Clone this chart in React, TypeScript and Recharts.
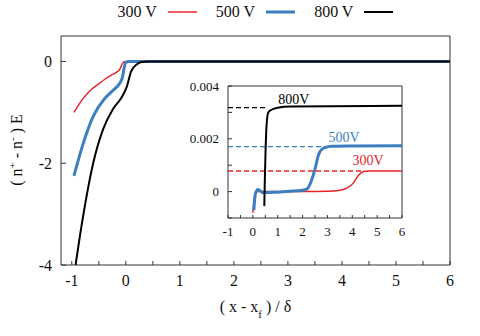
import React from 'react';
import {
  LineChart,
  Line,
  XAxis,
  YAxis,
  ReferenceArea,
  ReferenceDot,
} from 'recharts';

// main panel: (n+ - n-) E against (x - xf)/delta
const red300X = [-0.96, -0.8, -0.64, -0.5, -0.39, -0.27, -0.17, -0.11, -0.07, -0.04, 0, 6];
const red300Y = [-1.0, -0.74, -0.55, -0.44, -0.35, -0.27, -0.21, -0.15, -0.06, -0.01, 0, 0];

const blue500X = [-0.96, -0.8, -0.6, -0.4, -0.25, -0.12, -0.06, -0.03, 0.0, 0.06, 6];
const blue500Y = [-2.25, -1.65, -1.07, -0.74, -0.58, -0.44, -0.3, -0.12, -0.02, 0, 0];

const black800X = [-0.93, -0.8, -0.6, -0.42, -0.24, -0.08, 0.01, 0.1, 0.2, 0.29, 0.4, 6];
const black800Y = [-4.0, -3.1, -1.98, -1.33, -0.94, -0.71, -0.52, -0.19, -0.06, -0.01, 0, 0];

// inset: zoom around zero
const insetRedX = [0.0, 0.05, 0.1, 0.2, 0.5, 1, 2, 3, 3.5, 3.8, 4.05, 4.25, 4.45, 4.7, 5, 6];
const insetRedY = [-0.0008, -0.0003, -0.0001, 0, 0, 0, 0, 0.00001, 0.00005, 0.00014, 0.00033, 0.00062, 0.00076, 0.00078, 0.00078, 0.00078];

const insetBlueX = [0.04, 0.1, 0.2, 0.3, 0.4, 0.7, 1.0, 1.5, 2.0, 2.2, 2.35, 2.5, 2.63, 2.75, 2.9, 3.2, 4, 6];
const insetBlueY = [-0.0007, -0.0001, 0.00008, 0.00002, -0.00004, -0.00003, -0.00002, 0.00001, 0.00005, 0.00012, 0.0004, 0.00085, 0.00136, 0.00158, 0.00167, 0.00172, 0.00173, 0.00174];

const insetBlackX = [0.46, 0.48, 0.51, 0.55, 0.62, 0.75, 1.0, 1.5, 6];
const insetBlackY = [-0.00055, 0.0004, 0.0015, 0.0025, 0.003, 0.0031, 0.00318, 0.00322, 0.00325];

// dashed reference levels in the inset
const levelRed = 0.00078;
const levelBlue = 0.0017;
const levelBlack = 0.00318;
const levelEndX = [4.43, 2.83, 0.55];

const seriesNames = ['300 V', '500 V', '800 V'];
const insetNames = ['300V', '500V', '800V'];
const colors = ['#e8232b', '#3b7fc0', '#000000'];

const mainXTicks = [-1, -0.5, 0, 0.5, 1, 1.5, 2, 2.5, 3, 3.5, 4, 4.5, 5, 5.5, 6];
const mainYTicks = [-4, -2, 0];
const insetXTicks = [-1, -0.5, 0, 0.5, 1, 1.5, 2, 2.5, 3, 3.5, 4, 4.5, 5, 5.5, 6];
const insetYTicks = [-0.001, 0, 0.001, 0.002, 0.003, 0.004];
const insetYLabels = [0, 0.002, 0.004];

const FONT = "'Liberation Serif', 'Times New Roman', serif";

const zip = (xs: number[], ys: number[]) => xs.map((x, i) => ({ x, y: ys[i] }));

function bottomTick(len: number, fontSize: number, dy: number) {
  return (props: any) => {
    const { x, y, payload } = props;
    const v = payload.value;
    const major = Number.isInteger(v);
    return (
      <g>
        <line x1={x} x2={x} y1={y} y2={y - len} stroke="#333" />
        {major && (
          <text x={x} y={y + dy} textAnchor="middle" fontFamily={FONT} fontSize={fontSize} fill="#111">
            {String(v)}
          </text>
        )}
      </g>
    );
  };
}

function topTick(len: number) {
  return (props: any) => {
    const { x, y } = props;
    return <line x1={x} x2={x} y1={y} y2={y + len} stroke="#333" />;
  };
}

function leftTick(len: number, fontSize: number, gap: number, labels: number[] | null) {
  return (props: any) => {
    const { x, y, payload } = props;
    const v = payload.value;
    const show = labels == null || labels.includes(v);
    return (
      <g>
        <line x1={x} x2={x + len} y1={y} y2={y} stroke="#333" />
        {show && (
          <text x={x - gap} y={y} dy="0.35em" textAnchor="end" fontFamily={FONT} fontSize={fontSize} fill="#111">
            {String(v)}
          </text>
        )}
      </g>
    );
  };
}

function Legend() {
  return (
    <div
      style={{
        position: 'absolute',
        top: 3,
        left: 61,
        width: 389,
        display: 'flex',
        justifyContent: 'center',
        alignItems: 'center',
        fontFamily: FONT,
        fontSize: 16,
        color: '#111',
      }}
    >
      {seriesNames.map((name, i) => (
        <div key={name} style={{ display: 'flex', alignItems: 'center', marginLeft: i === 0 ? 0 : 19 }}>
          <span>{name}</span>
          <svg width={29} height={6} style={{ marginLeft: 11 }}>
            <line x1={0} x2={29} y1={3} y2={3} stroke={colors[i]} strokeWidth={i === 0 ? 1.5 : i === 1 ? 3 : 2} />
          </svg>
        </div>
      ))}
    </div>
  );
}

function Inset() {
  return (
    <div style={{ position: 'absolute', left: 168, top: 76, width: 240, height: 170, background: '#fff' }}>
      <LineChart width={240} height={170} margin={{ top: 10, right: 6, bottom: 8, left: 0 }}>
        <ReferenceArea x1={-1} x2={6} y1={-0.001} y2={0.004} fill="none" stroke="#333" strokeWidth={1} />
        <XAxis
          type="number"
          dataKey="x"
          domain={[-1, 6]}
          ticks={insetXTicks}
          interval={0}
          height={20}
          axisLine={false}
          tickLine={false}
          tickSize={0}
          tickMargin={0}
          tick={bottomTick(3, 13, 18)}
        />
        <XAxis
          xAxisId="top"
          orientation="top"
          type="number"
          domain={[-1, 6]}
          ticks={insetXTicks}
          interval={0}
          height={0}
          axisLine={false}
          tickLine={false}
          tickSize={0}
          tickMargin={0}
          tick={topTick(3)}
        />
        <YAxis
          type="number"
          domain={[-0.001, 0.004]}
          ticks={insetYTicks}
          interval={0}
          width={60}
          axisLine={false}
          tickLine={false}
          tickSize={0}
          tickMargin={0}
          tick={leftTick(4, 13, 9, insetYLabels)}
        />
        <Line data={zip([-1, levelEndX[0]], [levelRed, levelRed])} dataKey="y" type="linear" stroke={colors[0]} strokeWidth={1.3} strokeDasharray="5 3" dot={false} isAnimationActive={false} />
        <Line data={zip([-1, levelEndX[1]], [levelBlue, levelBlue])} dataKey="y" type="linear" stroke={colors[1]} strokeWidth={1.3} strokeDasharray="5 3" dot={false} isAnimationActive={false} />
        <Line data={zip([-1, levelEndX[2]], [levelBlack, levelBlack])} dataKey="y" type="linear" stroke={colors[2]} strokeWidth={1.3} strokeDasharray="5 3" dot={false} isAnimationActive={false} />
        <Line data={zip(insetRedX, insetRedY)} dataKey="y" type="monotone" stroke={colors[0]} strokeWidth={1.5} dot={false} isAnimationActive={false} />
        <Line data={zip(insetBlueX, insetBlueY)} dataKey="y" type="monotone" stroke={colors[1]} strokeWidth={3} dot={false} isAnimationActive={false} />
        <Line data={zip(insetBlackX, insetBlackY)} dataKey="y" type="monotone" stroke={colors[2]} strokeWidth={2} dot={false} isAnimationActive={false} />
        <ReferenceDot x={1.65} y={0.0035} r={0} stroke="none" label={{ value: insetNames[2], position: 'center', fill: colors[2], fontSize: 14, fontFamily: FONT }} />
        <ReferenceDot x={3.67} y={0.00208} r={0} stroke="none" label={{ value: insetNames[1], position: 'center', fill: colors[1], fontSize: 14, fontFamily: FONT }} />
        <ReferenceDot x={4.63} y={0.00119} r={0} stroke="none" label={{ value: insetNames[0], position: 'center', fill: colors[0], fontSize: 14, fontFamily: FONT }} />
      </LineChart>
    </div>
  );
}

export default function App() {
  return (
    <div style={{ position: 'absolute', left: 0, top: 0, width: 480, height: 336, background: '#fff' }}>
      <LineChart width={480} height={336} margin={{ top: 36, right: 30, bottom: 41, left: 0 }}>
        <ReferenceArea x1={-1.2} x2={6} y1={-4} y2={0.5} fill="none" stroke="#333" strokeWidth={1} />
        <XAxis
          type="number"
          dataKey="x"
          domain={[-1.2, 6]}
          ticks={mainXTicks}
          interval={0}
          height={30}
          axisLine={false}
          tickLine={false}
          tickSize={0}
          tickMargin={0}
          tick={bottomTick(4, 16, 21)}
          label={{
            content: () => (
              <text x={255.5} y={312} textAnchor="middle" fontFamily={FONT} fontSize={16} fill="#111">
                ( x - x<tspan baselineShift="sub" fontSize={11}>f</tspan>
                <tspan> ) / δ</tspan>
              </text>
            ),
          }}
        />
        <YAxis
          type="number"
          domain={[-4, 0.5]}
          ticks={mainYTicks}
          interval={0}
          width={61}
          axisLine={false}
          tickLine={false}
          tickSize={0}
          tickMargin={0}
          tick={leftTick(5, 16, 9, null)}
          label={{
            content: () => (
              <text x={0} y={0} transform="translate(22 150) rotate(-90)" textAnchor="middle" fontFamily={FONT} fontSize={16} fill="#111">
                ( n<tspan baselineShift="super" fontSize={11}>+</tspan>
                <tspan> - n</tspan>
                <tspan baselineShift="super" fontSize={11}>-</tspan>
                <tspan> ) E</tspan>
              </text>
            ),
          }}
        />
        <Line data={zip(red300X, red300Y)} dataKey="y" name={seriesNames[0]} type="monotone" stroke={colors[0]} strokeWidth={1.5} dot={false} isAnimationActive={false} />
        <Line data={zip(blue500X, blue500Y)} dataKey="y" name={seriesNames[1]} type="monotone" stroke={colors[1]} strokeWidth={3} dot={false} isAnimationActive={false} />
        <Line data={zip(black800X, black800Y)} dataKey="y" name={seriesNames[2]} type="monotone" stroke={colors[2]} strokeWidth={2} dot={false} isAnimationActive={false} />
      </LineChart>
      <Legend />
      <Inset />
    </div>
  );
}
